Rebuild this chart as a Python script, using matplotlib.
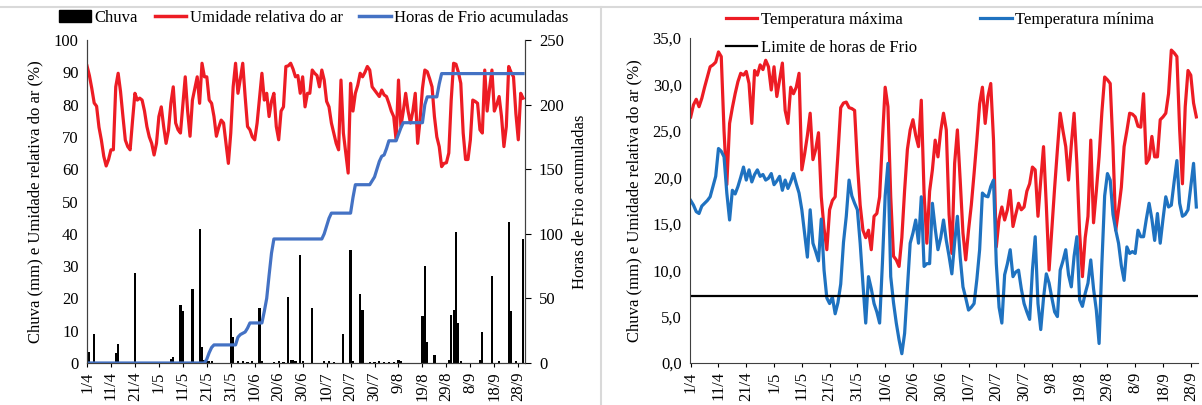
import matplotlib
matplotlib.use("Agg")
import matplotlib.pyplot as plt
from matplotlib.patches import Patch
from matplotlib.lines import Line2D
import numpy as np

plt.rcParams['font.family'] = ['Liberation Serif', 'DejaVu Serif']

# daily data, 1/4 to 30/9
rotulos_x = ["1/4", "11/4", "21/4", "1/5", "11/5", "21/5", "31/5", "10/6", "20/6", "30/6",
             "10/7", "20/7", "30/7", "9/8", "19/8", "29/8", "8/9", "18/9", "28/9"]

umidade = [92, 89, 85, 80.5, 79.5, 73, 69, 64, 61, 63,
           66, 66, 85.5, 89.7, 84, 76.3, 69, 67, 66, 75,
           83.5, 81.4, 82, 81.4, 78, 73.2, 70, 68, 64.4, 68,
           76.3, 79.3, 73.2, 68, 72, 80.4, 85.5, 74.3, 72.2, 71.2,
           80, 88.6, 78, 70.2, 81.4, 85, 88.6, 80.4, 92.8, 88.6,
           88.6, 81.4, 80.4, 76.3, 70.2, 73, 75.2, 74.3, 68, 61.8,
           71.2, 85.5, 92.8, 83.5, 88, 92.8, 82.5, 73.2, 72.2, 70,
           69.1, 74.3, 82, 89.7, 81.4, 83.5, 76.3, 81, 83.5, 73.2,
           69.1, 78, 79.3, 91.8, 92, 92.8, 91, 88.6, 89, 83.5,
           88.6, 79.3, 83.5, 83.5, 90.7, 89.7, 89, 85.5, 90.7, 87.6,
           81, 79.3, 74.3, 71.2, 68, 66, 87.6, 71.2, 65, 58.8,
           86.6, 78, 83.5, 86, 89.7, 88.6, 90, 91.8, 90.7, 85.5,
           84.5, 83.5, 82.5, 84.5, 83, 82.5, 80.4, 78, 76.3, 69.1,
           87.6, 73.2, 78, 83.5, 78, 74.3, 78, 83.5, 68, 75.2,
           85, 90.7, 90.2, 88, 85.5, 76.3, 70, 67, 60.8, 61.8,
           62, 65, 81.4, 92.8, 92.5, 90, 86.6, 71.2, 63, 63,
           69.1, 81.4, 81, 80.4, 72.2, 71.2, 90.7, 78, 85, 90.7,
           78, 80, 82.5, 76.3, 67, 73.2, 91.8, 90, 88.6, 77.2,
           69.1, 83.5, 82]

chuva_dia = [1, 3, 12, 13, 20, 35, 36, 39, 40, 44, 47, 48, 49, 50, 51, 52, 60, 61, 63, 65,
             67, 69, 72, 73, 78, 80, 82, 84, 85, 86, 87, 89, 90, 94, 99, 101, 103, 107, 110, 111,
             114, 115, 118, 120, 122, 124, 126, 128, 130, 131, 140, 141, 142, 145, 151, 152, 153, 154, 155, 156,
             164, 165, 169, 172, 176, 177, 179, 182]
chuva_mm = [3.5, 9, 3, 6, 28, 1.2, 1.8, 18, 16, 23, 41.5, 5, 0.8, 0.6, 0.5, 0.5, 14, 8, 0.6, 0.5,
            0.4, 0.5, 17, 0.6, 0.4, 0.5, 0.4, 20.5, 1, 0.8, 0.6, 33.5, 0.5, 17, 0.5, 0.5, 0.4, 9, 35, 0.6,
            21.5, 16.5, 0.4, 0.4, 0.5, 0.4, 0.4, 0.4, 1, 0.5, 14.5, 30, 6.5, 2.5, 1, 15, 16.5, 40.5, 12.5, 0.5,
            1, 9.5, 27, 0.5, 43.5, 16, 0.5, 38.5]

horas_frio = ([0] * 50 + [3, 8, 12] + [14] * 10 + [20, 22, 23, 24, 27] + [31] * 6
              + [40, 50, 68, 85] + [96] * 21 + [100, 106, 112] + [116] * 9 + [128]
              + [138] * 7 + [141, 144, 150, 156, 160, 161, 166] + [172] * 4 + [177, 182]
              + [186] * 9 + [200] + [206] * 5 + [216] + [224] * 35)

temp_max = [26.5, 27.8, 28.4, 27.6, 28.5, 29.7, 30.8, 31.9, 32.1, 32.4,
            33.5, 33.0, 25.0, 19.2, 25.8, 27.5, 29.0, 30.3, 31.2, 31.0,
            31.4, 30.1, 25.8, 31.5, 31.0, 32.1, 31.6, 32.6, 31.9, 29.4,
            31.9, 28.7, 30.5, 32.3, 27.2, 25.8, 29.7, 29.0, 29.7, 31.2,
            20.8, 22.5, 24.5, 26.9, 21.9, 23.0, 24.8, 17.9, 14.5, 12.2,
            16.5, 17.5, 17.9, 22.5, 27.5, 28.0, 28.1, 27.5, 27.4, 27.2,
            21.5, 17.0, 14.3, 13.5, 14.3, 12.2, 15.8, 16.1, 17.9, 24.0,
            29.7, 27.6, 17.9, 11.5, 11.1, 10.4, 13.5, 18.6, 23.0, 25.1,
            26.2, 24.5, 23.3, 28.3, 18.3, 12.9, 18.5, 20.8, 24.0, 22.2,
            25.0, 26.9, 25.1, 16.0, 11.8, 21.5, 25.1, 19.7, 14.0, 11.1,
            14.3, 17.0, 20.4, 24.0, 27.9, 29.7, 25.8, 28.7, 30.1, 24.0,
            12.5, 15.5, 16.8, 15.4, 16.5, 18.6, 14.7, 16.0, 17.2, 16.5,
            16.8, 18.5, 19.3, 21.1, 20.8, 15.8, 19.7, 23.3, 17.0, 10.0,
            14.5, 18.9, 23.0, 26.9, 25.0, 23.3, 19.7, 23.5, 26.9, 21.5,
            14.0, 9.3, 13.5, 15.8, 24.0, 15.1, 18.5, 22.2, 27.0, 30.8,
            30.5, 30.1, 23.3, 14.3, 16.5, 18.9, 23.3, 25.0, 26.9, 26.8,
            26.5, 25.5, 25.4, 29.0, 21.5, 22.0, 24.4, 22.2, 22.2, 26.2,
            26.5, 26.9, 29.0, 33.7, 33.4, 33.0, 25.1, 19.3, 27.6, 31.5,
            31.0, 28.0, 26.5]

temp_min = [17.5, 17.0, 16.3, 16.1, 16.9, 17.2, 17.5, 17.9, 19.0, 20.1,
            23.1, 22.8, 22.2, 18.3, 15.4, 18.6, 18.2, 19.0, 20.0, 21.1,
            19.7, 20.8, 19.5, 20.3, 20.8, 20.1, 20.3, 19.7, 19.9, 20.4,
            19.2, 19.6, 20.1, 18.6, 19.7, 18.8, 19.5, 20.4, 19.3, 18.3,
            16.5, 14.0, 11.4, 16.5, 12.9, 12.0, 11.0, 15.5, 10.0, 7.0,
            6.4, 7.1, 5.3, 6.5, 8.5, 13.0, 15.8, 19.7, 18.0, 17.2,
            16.5, 12.9, 8.5, 4.3, 9.3, 8.0, 6.4, 5.5, 4.3, 10.7,
            18.0, 21.5, 9.3, 6.5, 4.3, 2.5, 1.0, 3.2, 8.0, 12.9,
            14.0, 15.4, 12.9, 17.9, 10.4, 10.7, 10.7, 17.2, 14.5, 12.2,
            13.5, 15.4, 13.2, 11.5, 9.6, 13.0, 15.8, 11.4, 8.2, 7.0,
            5.7, 6.0, 6.4, 9.0, 12.2, 18.3, 18.0, 17.9, 19.0, 19.7,
            10.7, 6.0, 4.3, 9.5, 10.7, 12.2, 9.3, 9.8, 10.0, 8.0,
            6.4, 5.5, 4.7, 10.0, 13.6, 6.4, 3.6, 7.0, 9.6, 8.6,
            7.0, 5.5, 5.0, 10.0, 11.0, 12.2, 9.5, 8.2, 11.5, 13.6,
            6.8, 6.1, 7.5, 8.6, 11.1, 8.0, 5.7, 2.1, 10.7, 18.0,
            20.4, 19.7, 16.0, 14.3, 12.9, 10.5, 8.9, 12.5, 11.8, 12.0,
            11.8, 14.3, 13.6, 13.6, 15.5, 17.2, 15.5, 13.2, 16.1, 12.9,
            15.5, 17.9, 16.8, 17.0, 19.5, 21.8, 17.2, 15.8, 16.0, 16.5,
            19.0, 21.5, 16.8]

limite_frio = 7.2

dias = np.arange(len(umidade))
ticks = np.arange(0, 181, 10)

W, H = 1202, 405
fig = plt.figure(figsize=(W / 100, H / 100), dpi=100)

# panel frames
fig.add_artist(Line2D([0, 1], [1 - 7 / H, 1 - 7 / H], color='#d9d9d9', lw=1.5))
fig.add_artist(Line2D([601 / W, 601 / W], [0, 1 - 7 / H], color='#d9d9d9', lw=1.5))

vermelho = '#ed1c24'
azul_esq = '#4472c4'
azul_dir = '#1f72c0'
fs = 12

# ---- left panel
ax1 = fig.add_axes([87 / W, 1 - 363 / H, (525 - 87) / W, (363 - 40) / H])
ax2 = ax1.twinx()

ax1.bar(chuva_dia, chuva_mm, width=0.9, color='black', zorder=2)
ax1.plot(dias, umidade, color=vermelho, lw=2.3, zorder=3)
ax2.plot(dias, horas_frio, color=azul_esq, lw=2.3)

ax1.set_xlim(0, 182.8)
ax1.set_ylim(0, 100)
ax2.set_ylim(0, 250)
ax1.set_yticks(range(0, 101, 10))
ax2.set_yticks(range(0, 251, 50))
ax1.set_xticks(ticks)
ax1.set_xticklabels(rotulos_x, rotation=90, fontsize=fs)
ax1.tick_params(axis='y', length=0, labelsize=fs, pad=6)
ax1.tick_params(axis='x', length=3, direction='out', pad=3)
ax2.tick_params(axis='y', length=4, direction='out', labelsize=fs, pad=6)
for a in (ax1, ax2):
    a.spines['top'].set_visible(False)
    for s in ('left', 'right', 'bottom'):
        a.spines[s].set_color('#404040')
ax1.set_ylabel('Chuva (mm) e Umidade relativa do ar (%)', fontsize=fs)
ax1.yaxis.set_label_coords(-0.100, 0.5)
ax2.set_ylabel('Horas de Frio acumuladas', fontsize=fs, rotation=90)
ax2.yaxis.set_label_coords(1.107, 0.5)

handles = [Patch(color='black'), Line2D([], [], color=vermelho, lw=2.5),
           Line2D([], [], color=azul_esq, lw=2.5)]
fig.legend(handles, ['Chuva', 'Umidade relativa do ar', 'Horas de Frio acumuladas'],
           loc='center', bbox_to_anchor=(314 / W, 1 - 18 / H), ncol=3, frameon=False,
           fontsize=fs, handlelength=1.9, handletextpad=0.2, columnspacing=1.0)

# ---- right panel
ax3 = fig.add_axes([690 / W, 1 - 363 / H, (1198 - 690) / W, (363 - 38) / H])
l_max, = ax3.plot(dias, temp_max, color=vermelho, lw=2.3)
l_min, = ax3.plot(dias, temp_min, color=azul_dir, lw=2.3)
l_lim = ax3.axhline(limite_frio, color='black', lw=1.6)

ax3.set_xlim(-0.25, 182.6)
ax3.set_ylim(0, 35)
ax3.set_yticks(np.arange(0, 35.1, 5))
ax3.set_yticklabels([f'{v:.1f}'.replace('.', ',') for v in np.arange(0, 35.1, 5)])
ax3.set_xticks(ticks)
ax3.set_xticklabels(rotulos_x, rotation=90, fontsize=fs)
ax3.tick_params(axis='y', length=0, labelsize=fs, pad=6)
ax3.tick_params(axis='x', length=3, direction='out', pad=3)
ax3.spines['top'].set_visible(False)
ax3.spines['right'].set_visible(False)
for s in ('left', 'bottom'):
    ax3.spines[s].set_color('#404040')
ax3.set_ylabel('Chuva (mm) e Umidade relativa do ar (%)', fontsize=fs)
ax3.yaxis.set_label_coords(-0.0945, 0.5)

fig.legend([l_max, l_lim, l_min],
           ['Temperatura máxima', 'Limite de horas de Frio', 'Temperatura mínima'],
           loc='center', bbox_to_anchor=(940 / W, 1 - 34 / H), ncol=2, frameon=False,
           fontsize=fs, handlelength=1.9, handletextpad=0.2, columnspacing=3.8,
           labelspacing=0.75)

fig.savefig('out.png', dpi=100)
